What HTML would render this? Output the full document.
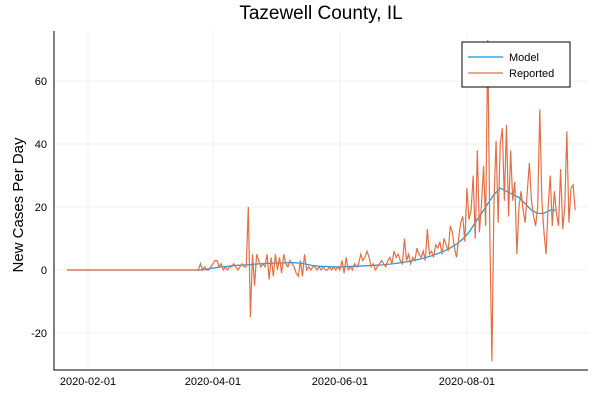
<!DOCTYPE html>
<html><head><meta charset="utf-8"><style>body{margin:0;background:#fff}svg{font-family:"Liberation Sans",sans-serif}</style></head>
<body>
<svg id="chart" width="600" height="400" xmlns="http://www.w3.org/2000/svg"></svg>
<script>
const xTickLabels=["2020-02-01","2020-04-01","2020-06-01","2020-08-01"];
const xTickDays=[0,60,121,182];
const yTicks=[-20,0,20,40,60];
const reportedStart=54;
const reported=[2,0,1,0,0,1,2,3,3,1,2,0,1,0,1,1,2,1,0,1,2,1,1,
20,-15,5,-5,5,3,1,2,1,5,-3,4,-2,5,0,4,-1,5,2,1,3,2,1,-1,-2,3,-2,5,0,1,0,1,1,0,1,0,1,0,0,1,0,1,0,1,
0,3,-1,4,0,1,0,2,1,2,5,3,4,6,4,1,2,0,1,2,3,2,1,3,4,2,6,4,5,3,
2,10,3,5,2,4,3,7,5,4,6,3,13,5,6,4,8,7,9,5,10,8,6,14,12,7,4,10,15,17,9,
26,16,19,30,10,38,12,21,33,14,73,12,-29,22,41,15,40,45,22,46,17,38,22,28,5,20,25,19,15,25,34,22,17,14,20,51,22,12,5,20,30,14,25,18,14,32,13,20,44,15,26,27,19];
const modelDays=[-10,54,57,60,63,66,69,72,75,78,81,84,87,90,93,96,99,102,105,108,111,114,117,120,123,126,129,132,135,138,141,144,147,150,153,156,159,162,165,168,171,174,177,180,183,186,189,192,195,198,201,204,207,210,213,216,219,222,225];
const modelVals=[0,0,0.3,0.6,0.9,1.1,1.3,1.5,1.6,1.7,1.9,2.0,2.1,2.2,2.2,2.3,2.3,2.2,1.8,1.4,1.2,1.1,1.0,1.0,1.0,1.1,1.2,1.3,1.4,1.5,1.6,1.8,2.0,2.3,2.6,3.0,3.4,3.9,4.5,5.2,6.0,7.0,8.2,9.8,12,15,18,21,24,26,25,24,23,21,19,18,18,19,19];
const svg=document.getElementById('chart');const NS='http://www.w3.org/2000/svg';
const X=d=>88+d*2.082, Y=v=>270-v*3.15;
function mk(t,a,txt){const e=document.createElementNS(NS,t);for(const k in a)e.setAttribute(k,a[k]);if(txt!=null)e.textContent=txt;svg.appendChild(e);return e;}
xTickDays.forEach((d,i)=>{let g=mk('line',{x1:X(d),x2:X(d),y1:31,y2:370,stroke:'#f0f0f0'});

let t=mk('text',{x:X(d),y:385,'font-size':11,'text-anchor':'middle',fill:'#000'},xTickLabels[i]);
});
yTicks.forEach(v=>{let g=mk('line',{x1:54,x2:588,y1:Y(v),y2:Y(v),stroke:'#f0f0f0'});

let t=mk('text',{x:47,y:Y(v)+4,'font-size':11,'text-anchor':'end',fill:'#000'},v);
});
let ax=mk('path',{d:'M54 31V370H588',fill:'none',stroke:'#000','stroke-width':1});

let rp=[[-10,0]];for(let d=-9;d<reportedStart;d++)rp.push([d,0]);
reported.forEach((v,i)=>rp.push([reportedStart+i,v]));
let mp=modelDays.map((d,i)=>[d,modelVals[i]]);
let ml=mk('polyline',{points:mp.map(p=>X(p[0])+','+Y(p[1])).join(' '),fill:'none',stroke:'#009af9','stroke-width':1.2});

let rl=mk('polyline',{points:rp.map(p=>X(p[0])+','+Y(p[1])).join(' '),fill:'none',stroke:'#e26f46','stroke-width':1.2});

let ti=mk('text',{x:321,y:19,'font-size':19,'text-anchor':'middle'},'Tazewell County, IL');

let yl=mk('text',{x:23,y:205,'font-size':15,'text-anchor':'middle',transform:'rotate(-90 23 205)'},'New Cases Per Day');

let lb=mk('rect',{x:462,y:42,width:108,height:45,fill:'#fff',stroke:'#000'});

[['Model','#009af9',57],['Reported','#e26f46',73]].forEach(([n,c,y])=>{
let l=mk('line',{x1:468,x2:503,y1:y,y2:y,stroke:c,'stroke-width':1.2});

let t=mk('text',{x:509,y:y+4,'font-size':11},n);
});
</script>
</body></html>
